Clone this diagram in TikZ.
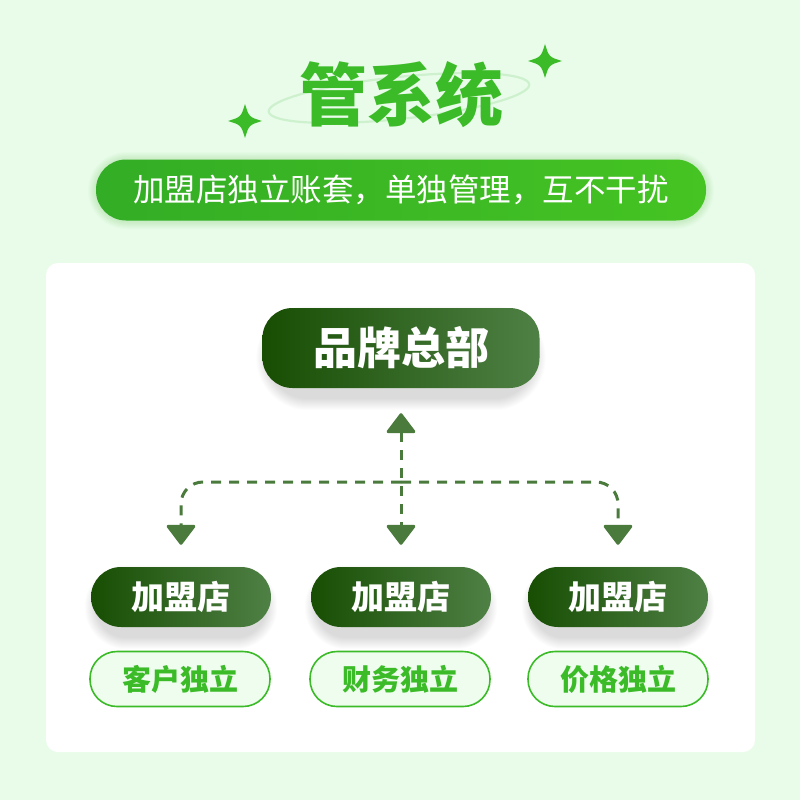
\documentclass[tikz,border=0pt]{standalone}
\usepackage{fontspec}
\setmainfont{Noto Sans CJK SC}
\newfontfamily\heavyfont{Noto Sans CJK SC Black}
\usetikzlibrary{arrows.meta}

\definecolor{bggreen}{HTML}{E9FCEA}
\definecolor{brightgreen}{HTML}{3CBB28}
\definecolor{bannerleft}{HTML}{33AD25}
\definecolor{bannerright}{HTML}{45C423}
\definecolor{darkleft}{HTML}{174E03}
\definecolor{darkright}{HTML}{4F8045}
\definecolor{linkgreen}{HTML}{4A7B3D}
\definecolor{subfill}{HTML}{EFFDEF}
\definecolor{ringgreen}{HTML}{CDF0CD}

\pgfdeclarelayer{panel}
\pgfdeclarelayer{shade}
\pgfsetlayers{panel,shade,main}

\begin{document}
\begin{tikzpicture}[x=1pt,y=-1pt,
  pill/.style={rectangle,rounded corners=#1,inner sep=0pt},
  darkpill/.style={pill=30pt,left color=darkleft,right color=darkright,text=white,font=\bfseries},
  subpill/.style={pill=27pt,draw=brightgreen,line width=1.6pt,fill=subfill,
    text=brightgreen,font=\bfseries\fontsize{29}{29}\selectfont,minimum width=180pt,minimum height=55pt},
  link/.style={draw=linkgreen,line width=3pt,dash pattern=on 10pt off 8pt},
  tri/.tip={Triangle[width=31pt,length=21pt,round]},
  sparkle/.style={fill=brightgreen}]
\useasboundingbox (0,0) rectangle (800,800);

\begin{pgfonlayer}{panel}
\fill[bggreen] (0,0) rectangle (800,800);
% soft glow behind the banner
\foreach \g in {1,...,8}
  \fill[brightgreen,opacity=0.025,rounded corners=30.5pt+\g pt] (96-\g,160-\g) rectangle (706+\g,221+\g);
\fill[white,rounded corners=12pt] (46,263) rectangle (755,752);
\end{pgfonlayer}

% title
\draw[ringgreen,line width=2.2pt,rotate around={6:(399,98)}] (399,98) ellipse [x radius=131,y radius=21];
\node (title) at (401,95) {\heavyfont\fontsize{68}{68}\selectfont\color{brightgreen}管系统};
\fill[sparkle] (545,44) .. controls (549,57) .. (562,61) .. controls (549,65) .. (545,78)
  .. controls (541,65) .. (528,61) .. controls (541,57) .. (545,44) -- cycle;
\fill[sparkle] (245,104) .. controls (249,117) .. (262,121) .. controls (249,125) .. (245,138)
  .. controls (241,125) .. (228,121) .. controls (241,117) .. (245,104) -- cycle;

\node[pill=30pt,left color=bannerleft,right color=bannerright,minimum width=610pt,minimum height=61pt,
  text=white,font=\fontsize{31.5}{31.5}\selectfont] (banner) at (401,190) {加盟店独立账套，单独管理，互不干扰};

\node[darkpill=40pt,minimum width=277pt,minimum height=80pt,font=\bfseries\fontsize{44}{44}\selectfont] (hq) at (401,348) {品牌总部};

\node[darkpill,minimum width=180pt,minimum height=60pt,font=\bfseries\fontsize{33}{33}\selectfont] (f1) at (181,597) {加盟店};
\node[darkpill,minimum width=180pt,minimum height=60pt,font=\bfseries\fontsize{33}{33}\selectfont] (f2) at (401,597) {加盟店};
\node[darkpill,minimum width=180pt,minimum height=60pt,font=\bfseries\fontsize{33}{33}\selectfont] (f3) at (618,597) {加盟店};

% soft shadows under the dark pills
\begin{pgfonlayer}{shade}
\foreach \n/\r in {hq/40,f1/30,f2/30,f3/30}
  \foreach \s in {1,...,12}
    \fill[black!70!darkleft,opacity=0.011,rounded corners=\r pt+\s pt]
      ([xshift=-\s pt+6pt,yshift=\s pt-10pt]\n.north west) rectangle ([xshift=\s pt-6pt,yshift=-\s pt-10pt]\n.south east);
\end{pgfonlayer}

\node[subpill] (s1) at (180,679) {客户独立};
\node[subpill] (s2) at (400,679) {财务独立};
\node[subpill] (s3) at (618,679) {价格独立};

\coordinate (split) at (401,482);
\draw[link,tri-tri] ([yshift=-25pt]hq.south) -- ([yshift=22pt]f2.north);
\draw[link,-tri,rounded corners=22pt] (split) -| ([yshift=22pt]f1.north);
\draw[link,-tri,rounded corners=22pt] (split) -| ([yshift=22pt]f3.north);
\end{tikzpicture}
\end{document}
